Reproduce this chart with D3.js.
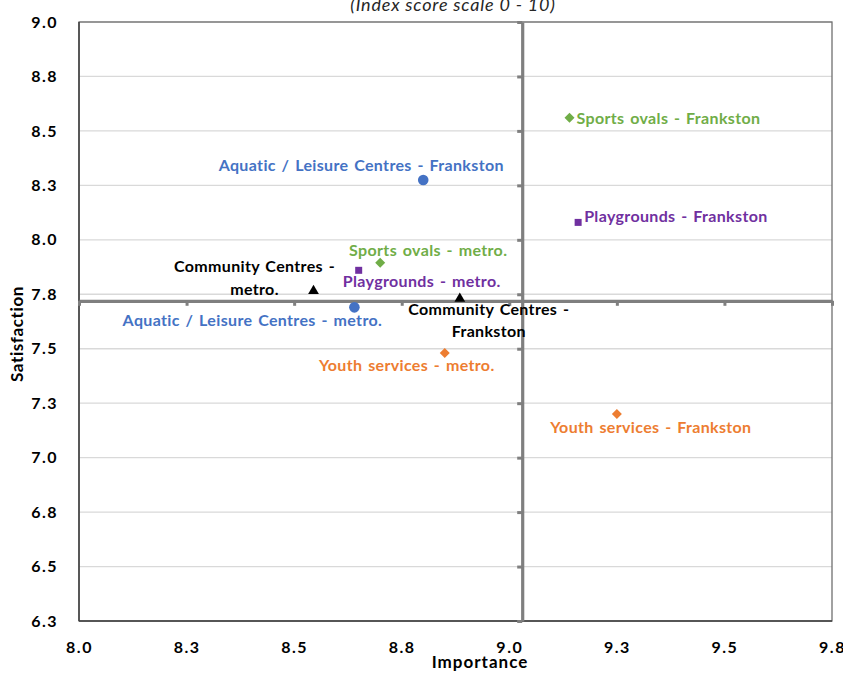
<!DOCTYPE html>
<html>
<head>
<meta charset="utf-8">
<script src="https://cdn.jsdelivr.net/npm/d3@7"></script>
<style>
  html, body { margin: 0; padding: 0; background: #fff; }
  svg { display: block; }
  text { font-family: Lato, "Open Sans", sans-serif; }
</style>
</head>
<body>
<svg id="chart" width="843" height="673"></svg>
<script>
// ---------------- data ----------------
const services   = ["Sports ovals - Frankston", "Playgrounds - Frankston", "Aquatic / Leisure Centres - Frankston",
                    "Sports ovals - metro.", "Playgrounds - metro.", "Community Centres - metro.",
                    "Aquatic / Leisure Centres - metro.", "Community Centres - Frankston",
                    "Youth services - metro.", "Youth services - Frankston"];
const importance   = [9.14, 9.16, 8.80, 8.70, 8.65, 8.545, 8.64, 8.885, 8.85, 9.25];
const satisfaction = [8.56, 8.08, 8.275, 7.895, 7.86, 7.765, 7.69, 7.73, 7.48, 7.20];
const groups       = ["sports", "playgrounds", "aquatic", "sports", "playgrounds", "community",
                      "aquatic", "community", "youth", "youth"];
const xTicks = [8.0, 8.25, 8.5, 8.75, 9.0, 9.25, 9.5, 9.75];
const yTicks = [6.25, 6.5, 6.75, 7.0, 7.25, 7.5, 7.75, 8.0, 8.25, 8.5, 8.75, 9.0];
const crossImportance = 9.03;
const crossSatisfaction = 7.72;
const subtitle = "(Index score scale 0 - 10)";
const xTitle = "Importance";
const yTitle = "Satisfaction";

// ---------------- styles / layout ----------------
const groupStyle = {
  sports:      { color: "#70AD47", symbol: d3.symbolSquare,   size: 50, rot: 45 },
  playgrounds: { color: "#7030A0", symbol: d3.symbolSquare,   size: 49, rot: 0 },
  aquatic:     { color: "#4472C4", symbol: d3.symbolCircle,   size: 88, rot: 0 },
  community:   { color: "#000000", symbol: d3.symbolTriangle, size: 50, rot: 0 },
  youth:       { color: "#ED7D31", symbol: d3.symbolSquare,   size: 50, rot: 45 }
};
// label placement: anchor, dx, and one dy per line
const labelLayout = [
  { lines: ["Sports ovals - Frankston"], anchor: "start", dx: 7, dy: [6] },
  { lines: ["Playgrounds - Frankston"], anchor: "start", dx: 6, dy: [0] },
  { lines: ["Aquatic / Leisure Centres - Frankston"], anchor: "middle", dx: -62, dy: [-9] },
  { lines: ["Sports ovals - metro."], anchor: "middle", dx: 48, dy: [-7] },
  { lines: ["Playgrounds - metro."], anchor: "middle", dx: 63, dy: [17] },
  { lines: ["Community Centres -", "metro."], anchor: "middle", dx: -59, dy: [-19, 4] },
  { lines: ["Aquatic / Leisure Centres - metro."], anchor: "middle", dx: -102, dy: [19] },
  { lines: ["Community Centres -", "Frankston"], anchor: "middle", dx: 29, dy: [16, 38.5] },
  { lines: ["Youth services - metro."], anchor: "middle", dx: -38, dy: [17.5] },
  { lines: ["Youth services - Frankston"], anchor: "middle", dx: 34, dy: [18.5] }
];

const plot = { left: 79, top: 22, right: 832, bottom: 621 };

const svg = d3.select("#chart");
const x = d3.scaleLinear().domain([8.0, 9.75]).range([plot.left, plot.right]);
const y = d3.scaleLinear().domain([6.25, 9.0]).range([plot.bottom, plot.top]);
const fmt = d3.format(".1f");
const fmtTick = v => fmt(Math.round(v * 10 + 1e-9) / 10);

// gridlines
svg.append("g").selectAll("line").data(yTicks).join("line")
  .attr("x1", plot.left).attr("x2", plot.right)
  .attr("y1", d => y(d)).attr("y2", d => y(d))
  .attr("stroke", "#d9d9d9").attr("stroke-width", 1.3);

// plot border
svg.append("rect")
  .attr("x", plot.left).attr("y", plot.top)
  .attr("width", plot.right - plot.left).attr("height", plot.bottom - plot.top)
  .attr("fill", "none").attr("stroke", "#6f6f6f").attr("stroke-width", 1.3);
svg.append("line").attr("x1", plot.left).attr("x2", plot.left).attr("y1", plot.top).attr("y2", plot.bottom)
  .attr("stroke", "#404040").attr("stroke-width", 1.5);
svg.append("line").attr("x1", plot.left).attr("x2", plot.right).attr("y1", plot.bottom).attr("y2", plot.bottom)
  .attr("stroke", "#404040").attr("stroke-width", 1.5);

// tick labels (axes without lines)
const xAxis = svg.append("g").attr("transform", `translate(0,${plot.bottom})`)
  .call(d3.axisBottom(x).tickValues(xTicks).tickFormat(fmtTick).tickSize(0).tickPadding(21));
const yAxis = svg.append("g").attr("transform", `translate(${plot.left},0)`)
  .call(d3.axisLeft(y).tickValues(yTicks).tickFormat(fmtTick).tickSize(0).tickPadding(21));
[xAxis, yAxis].forEach(a => {
  a.select(".domain").remove();
  a.selectAll("text").attr("font-family", "Lato, sans-serif").attr("font-size", 16)
    .attr("font-weight", "bold").attr("letter-spacing", 1.5).attr("fill", "#000");
});

// quadrant crossing axes
const hAxis = svg.append("g").attr("transform", `translate(0,${y(crossSatisfaction)})`)
  .call(d3.axisBottom(x).tickValues(xTicks).tickFormat("").tickSize(5).tickSizeOuter(0));
const vAxis = svg.append("g").attr("transform", `translate(${x(crossImportance)},0)`)
  .call(d3.axisLeft(y).tickValues(yTicks).tickFormat("").tickSize(5).tickSizeOuter(0));
[hAxis, vAxis].forEach(a => {
  a.select(".domain").attr("stroke", "#7f7f7f").attr("stroke-width", 3.2);
  a.selectAll(".tick line").attr("stroke", "#7f7f7f").attr("stroke-width", 3);
});

// points
const pts = services.map((s, i) => ({ name: s, imp: importance[i], sat: satisfaction[i], g: groups[i], lab: labelLayout[i] }));
svg.append("g").selectAll("path").data(pts).join("path")
  .attr("transform", d => `translate(${x(d.imp)},${y(d.sat)}) rotate(${groupStyle[d.g].rot})`)
  .attr("d", d => d3.symbol().type(groupStyle[d.g].symbol).size(groupStyle[d.g].size)())
  .attr("fill", d => groupStyle[d.g].color);

// labels
const lg = svg.append("g");
pts.forEach(d => {
  d.lab.lines.forEach((ln, k) => {
    lg.append("text")
      .attr("x", x(d.imp) + d.lab.dx)
      .attr("y", y(d.sat) + d.lab.dy[k])
      .attr("text-anchor", d.lab.anchor)
      .attr("font-size", 16).attr("font-weight", "bold")
      .attr("letter-spacing", 0.35)
      .attr("word-spacing", 1.5)
      .attr("fill", groupStyle[d.g].color)
      .text(ln);
  });
});

// titles
svg.append("text").attr("x", 453).attr("y", 10.5).attr("text-anchor", "middle")
  .attr("font-size", 18).attr("font-style", "italic").attr("letter-spacing", 0.8)
  .attr("fill", "#262626").text(subtitle);
svg.append("text").attr("x", 480).attr("y", 668).attr("text-anchor", "middle")
  .attr("font-size", 17).attr("font-weight", "bold").attr("letter-spacing", 1).attr("fill", "#000").text(xTitle);
svg.append("text").attr("transform", "translate(23,334) rotate(-90)").attr("text-anchor", "middle")
  .attr("font-size", 17).attr("font-weight", "bold").attr("letter-spacing", 0.6).attr("fill", "#000").text(yTitle);
</script>
</body>
</html>
